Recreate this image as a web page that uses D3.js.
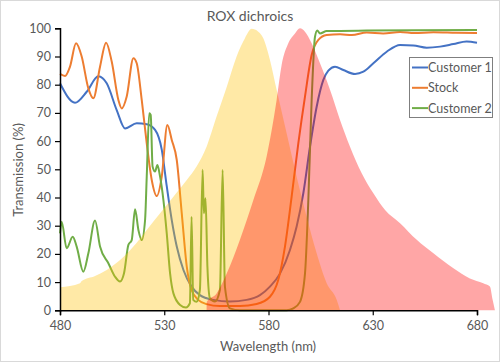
<!DOCTYPE html>
<html><head><meta charset="utf-8">
<script src="https://cdn.jsdelivr.net/npm/d3@7"></script>
<style>body{margin:0;background:#fff}svg{display:block}text{font-family:Lato,"Open Sans",sans-serif}</style>
</head><body><svg id="c" width="500" height="363"></svg>
<script>
const xTicks=[480,530,580,630,680];
const yTicks=[0,10,20,30,40,50,60,70,80,90,100];
const seriesNames=["Customer 1","Stock","Customer 2"];
const customer1=[[480,80.5],[487.2,73.6],[492.8,77.5],[498.4,83],[502.4,80.5],[507.2,71],[511.2,64.5],[516.8,66.3],[521.6,66],[525.6,64],[528.8,57],[531.2,44],[533.6,32],[536,22.6],[539.2,14.3],[543.1,8.4],[547.1,5.4],[553.5,3.7],[561.5,3.1],[569.5,3.7],[575.9,5.4],[580.7,8.4],[585.5,13],[590.3,21.4],[593.5,29.7],[596.7,41.5],[599.9,58],[603.1,72.2],[606.3,81.7],[608.7,85],[611.9,86.4],[615.9,85.2],[621.5,83.8],[625.5,84.6],[630.3,87.6],[636.7,91.7],[643.1,94.1],[649.5,93.9],[655.9,93.1],[662.3,93.5],[668.7,94.4],[675,95.3],[680,94.9]];
const stock=[[480,83.8],[482.4,83.1],[484.8,86.4],[487.7,94.7],[490.4,90],[493.6,78.7],[496,75.2],[499.2,86.4],[502.1,94.9],[504.8,88.2],[508,74.6],[509.6,71.6],[512,75.8],[515.2,89.4],[516.8,87.6],[519.2,74.6],[521.6,59.2],[524,46.2],[526.4,40.5],[528.8,47.4],[531.5,65.7],[533.6,60.4],[536,53.3],[538.4,34.4],[540.8,15.5],[543.1,7.2],[546.3,3.7],[550.3,2.2],[556.7,1.5],[566.3,1.5],[574.3,2.2],[580.7,4.8],[584.7,10.8],[587.9,22.6],[591.1,40.3],[594.3,59.2],[597.5,75.8],[600.7,90.5],[603.9,95.9],[607.9,97.6],[614.3,97.9],[620,97.6],[627.1,98.5],[635,98.2],[643.1,98.7],[650,98.3],[659.1,98.6],[670,98.4],[680,98.3]];
const customer2=[[480,27.3],[480.8,31.4],[483.2,22],[486.1,26.1],[488,22.6],[491.2,13.7],[493.6,20.2],[496.8,31.8],[499.2,22.6],[503.2,16.7],[506.4,11.9],[508.8,10.2],[510.7,13.1],[512.8,23.2],[514.4,24.9],[516,35.8],[517.6,28.5],[519.2,24.9],[520.8,32],[521.6,47.4],[522.8,69.9],[523.5,69.3],[524.4,51],[525.6,49.2],[526.7,51.5],[528,47.4],[529.6,39.1],[531.2,27.3],[532.8,13.1],[534.4,6],[537.6,1.9],[540.4,1],[542.3,2.5],[543.1,33.2],[543.9,3.7],[545.5,3],[547.1,7.2],[548.4,49.8],[549,34.4],[549.8,39.7],[550.7,15.5],[551.9,4.3],[554.3,3.1],[556.7,7.2],[558,49.8],[559.1,8.4],[561.5,0.7],[566.3,0],[588.7,0],[591.9,0.7],[595.1,3],[597.5,13],[599.1,39],[600.7,74.6],[602.3,97],[603.4,99.2],[604.7,98.2],[607.9,99],[627.1,99.2],[650,99.3],[680,99.4]];
const excitation=[[480,8.2],[489.6,9.6],[490.4,10.4],[496.8,12.2],[502.4,14.3],[508.8,17.8],[515.2,22.6],[521.6,28.5],[528,34.4],[534.4,40.3],[540.8,46.2],[545.5,51],[550.3,58],[555.1,68.7],[560,79.3],[564.7,90],[568.7,96.5],[571.9,99.8],[575.1,98.8],[577.5,96.5],[580.7,88.8],[583.9,78.2],[588.7,62.8],[593.5,47.4],[598.3,33.2],[603.1,20.2],[607.9,9.6],[612.7,3.7],[614.3,0]];
const emission=[[550.3,0],[550.4,3],[555.1,6],[560,13.1],[566.3,25],[572.7,39],[579.1,54.5],[583.9,74.6],[586.3,87],[589.5,94.7],[592.7,98.2],[595.1,100],[597.5,98.8],[600.7,94.7],[604.7,87.6],[609.5,78.2],[614.3,67.5],[619.1,58],[624.7,48.6],[630.3,41.5],[635.9,35.6],[643.1,30.9],[651.1,25],[659.1,20.2],[668.7,14.9],[676.6,11.3],[683,9.6],[686.2,8.4],[687.5,3.7],[688.6,0]];
const colors=["#4472C4","#ED7D31","#70AD47"];

const svg=d3.select("#c");
svg.append("rect").attr("x",0.5).attr("y",0.5).attr("width",499).attr("height",361).attr("fill","#fff").attr("stroke","#D9D9D9");
const x=d3.scaleLinear().domain([480,680]).range([60,477]);
const y=d3.scaleLinear().domain([0,100]).range([310.3,28.3]);

const line=d3.line().x(d=>x(d[0])).y(d=>y(d[1])).curve(d3.curveMonotoneX);
[customer1,stock,customer2].forEach((s,i)=>{
  svg.append("path").attr("d",line(s)).attr("fill","none").attr("stroke",colors[i]).attr("stroke-width",2).attr("stroke-linejoin","round");
});
const area=d3.area().x(d=>x(d[0])).y0(y(0)).y1(d=>y(d[1])).curve(d3.curveMonotoneX);
svg.append("path").attr("d",area(excitation)).attr("fill","#FFC000").attr("fill-opacity",0.35);
svg.append("path").attr("d",area(emission)).attr("fill","#FF0000").attr("fill-opacity",0.35);

const gx=svg.append("g").attr("transform",`translate(0,${y(0)})`)
  .call(d3.axisBottom(x).tickValues(xTicks).tickSize(5).tickPadding(6));
const gy=svg.append("g").attr("transform",`translate(${x(480)},0)`)
  .call(d3.axisLeft(y).tickValues(yTicks).tickSize(5).tickPadding(4));
[gx,gy].forEach(g=>{
  g.select(".domain").attr("stroke","#000").attr("stroke-width",1.5);
  g.selectAll(".tick line").attr("stroke","#000").attr("stroke-width",1.2);
  g.selectAll(".tick text").attr("fill","#595959").style("font-size","12.5px").style("font-family","Lato,sans-serif");
});

svg.append("text").attr("x",250).attr("y",21).attr("text-anchor","middle").attr("fill","#595959").style("font-size","14px").text("ROX dichroics");
svg.append("text").attr("x",268).attr("y",351).attr("text-anchor","middle").attr("fill","#595959").style("font-size","13px").text("Wavelength (nm)");
svg.append("text").attr("transform","translate(23,170) rotate(-90)").attr("text-anchor","middle").attr("fill","#595959").style("font-size","13px").text("Transmission (%)");

const lg=svg.append("g");
lg.append("rect").attr("x",409.5).attr("y",57.5).attr("width",83).attr("height",60).attr("fill","#fff").attr("stroke","#7F7F7F").attr("stroke-width",1);
seriesNames.forEach((n,i)=>{
  const yy=67.5+i*20.3;
  lg.append("line").attr("x1",412).attr("x2",428).attr("y1",yy).attr("y2",yy).attr("stroke",colors[i]).attr("stroke-width",2);
  lg.append("text").attr("x",428).attr("y",yy+4.5).attr("fill","#595959").style("font-size","12.5px").text(n);
});
</script></body></html>
